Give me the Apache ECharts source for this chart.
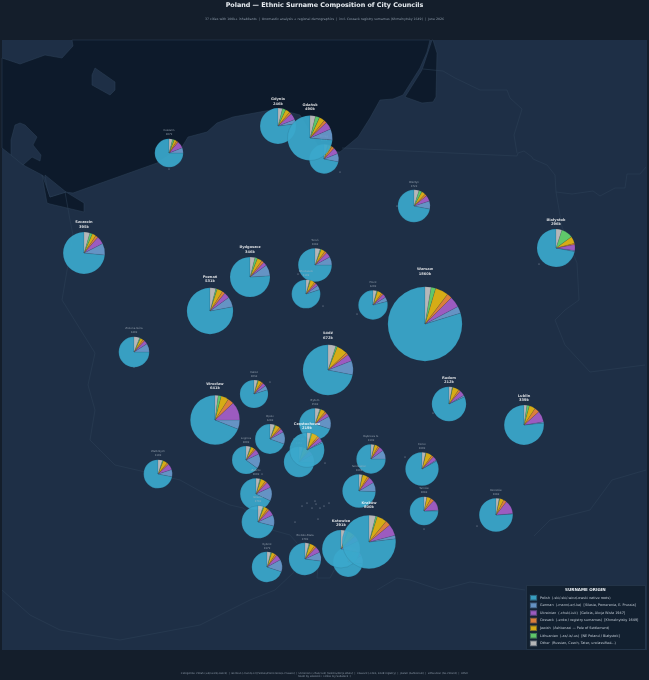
<!DOCTYPE html>
<html><head><meta charset="utf-8">
<style>html,body{margin:0;padding:0;background:#141e2b}#c{width:649px;height:680px}</style>
<script src="https://cdn.jsdelivr.net/npm/echarts@6/dist/echarts.min.js"></script>
</head><body><div id="c"></div>
<script>
const cityNames=["Tychy","Legnica","Kalisz","Koszalin","Tarnów","Wałbrzych","Włocławek","Płock","Elbląg","Dąbrowa G.","Rybnik","Opole","Zabrze","Bytom","Bielsko-Biała","Gliwice","Olsztyn","Rzeszów","Kielce","Sosnowiec","Toruń","Radom","Częstochowa","Zielona Góra","Ruda Śl.","Gdynia","Katowice","Białystok","Lublin","Bydgoszcz","Szczecin","Gdańsk","Poznań","Wrocław","Łódź","Kraków","Warsaw"];
const population=[127,100,103,107,108,110,110,120,120,119,137,128,160,158,170,178,172,198,190,190,198,212,219,140,136,246,291,296,339,346,395,490,531,641,672,800,1860];
const mapX=[348,246,254,169,424,158,306,373,324,371,267,270,256,315,305,258,414,496,422,359,315,449,307,134,299,278,341,556,524,250,84,310,210,215,328,369,425];
const mapY=[562,460,394,153,511,474,294,305,159,459,567,439,494,424,559,522,206,515,469,491,265,404,450,352,462,126,549,248,425,277,253,138,311,420,370,542,324];
const sharePolish=[73,65,80,75,75,72,80,79,72,75,70,69,68,70,73,71,72,76,83,74.5,75,82,82,75,75,77,72,72,76.7,76,73.5,73.6,78,69,71.7,77,79.7];
const shareGerman=[9,17,5,6,1,8,5,5,9,10,13,13,14,13,9,11,8,.5,1,9,8,1.5,1.5,9,8,4,10,1,1,9,9,8,7,6,9,2,3];
const shareUkrainian=[6,6,4,8,12,7,3,4,7,5,6,4,6,4,6,6,6,13,4,6,5,5,4,4,5,6,5,5,9,3,6,5.5,4,12,4.5,7,4.7];
const shareCossack=[2,2,2,2,4,2,2,2,3,2,2,2,2,2,2,2,2,3,2,2,2,2,2,2,2,2,2,1,4,2,2,2,2,4,1.5,3,2.2];
const shareJewish=[4,4,4,3,5,5,5,5,4,4,4,5,5,5,5,4,4,4,6,5,4,6,6,3,5,4,5,6,5,4,3,4,4,5,7,6,5.7];
const shareLithuanian=[1,1,1,2,0,1,1,1,1,.5,1,1,1,1,1,1,3,.5,.5,.5,1,.5,1,1,1,3,1,10,2,2,2,3,1,2,1,1,2];
const shareOther=[5,5,4,4,3,5,4,4,4,3.5,4,5,4,5,4,5,5,3,3.5,3,5,3,3.5,6,4,4,5,5,2.3,4,4.5,3.9,4,2,5,4,2.6];
const specks=[[302,506],[307,503],[315,501],[316,504],[312,508],[320,508],[324,506],[329,503],[295,522],[318,519],[340,172],[169,169],[298,274],[323,306],[357,314],[270,382],[325,463],[262,474],[433,413],[405,457],[424,529],[477,526],[397,206],[539,264],[134,367]];
const categoryNames=["Polish  (-ski/-ski/-wicz/-owski native roots)","German  (-mann/-er/-ke)  [Silesia, Pomerania, E. Prussia]","Ukrainian  (-chuk/-iuk)  [Galicia, Akcja Wisła 1947]","Cossack  (-enko / registry surnames)  [Khmelnytsky 1649]","Jewish  (Ashkenazi — Pale of Settlement)","Lithuanian  (-as/-is/-us)  [NE Poland / Białystok]","Other  (Russian, Czech, Tatar, unclassified...)"];
const categoryColors=["#3aa8cb","#6a9bce","#a65fc9","#e9853c","#e4b612","#65d36e","#c2c2c2"];
const shares=[sharePolish,shareGerman,shareUkrainian,shareCossack,shareJewish,shareLithuanian,shareOther];
const drawnLast=["Włocławek"], drawnFirst=["Ruda Śl."];

const frame=[[2,40],[647,40],[647,650],[2,650],[2,40]];
const seaOutline=[[72,40],[430,40],[427,52],[420,68],[403,95],[393,99],[380,100],[370,118],[358,137],[340,152],[320,150],[300,115],[277,109],[260,112],[233,117],[217,123],[207,132],[188,137],[182,147],[157,163],[73,193],[65,192],[42,175],[25,166],[2,148],[2,58],[20,64],[45,55],[62,58],[73,46],[72,40]];
const lagoonEast=[[433,40],[437,53],[436,97],[433,102],[422,103],[405,97],[422,70],[432,40],[433,40]];
const islandA=[[95,68],[115,82],[115,90],[110,95],[92,85],[92,75],[95,68]];
const islandB=[[20,123],[25,125],[37,137],[33,145],[41,155],[40,161],[32,157],[23,165],[11,155],[11,140],[15,125],[20,123]];
const islandC=[[45,175],[66,192],[50,197],[47,188],[45,175]];
const lagoonWest=[[42,175],[47,203],[50,204],[84,212],[84,203],[66,192],[50,197],[47,188],[42,175]];
const borderLines=[
 [[342,148],[517,156],[518,153],[524,151],[532,157],[533,159],[547,165],[555,175],[556,192],[572,194],[593,191],[600,196],[615,188],[625,188],[627,174],[640,174],[646,167]],
 [[423,69],[443,71],[455,78],[480,90],[507,90],[510,98],[522,109],[514,135],[517,153]],
 [[556,192],[562,227],[577,263],[579,300],[565,310],[555,320],[565,345],[590,372],[645,365]],
 [[534,536],[550,520],[590,510],[612,480],[646,470]],
 [[65,192],[70,220],[73,235],[62,300],[95,353],[88,385],[95,410],[90,440],[115,465],[180,480],[207,495],[230,505],[243,508],[272,530],[290,535],[297,543]],
 [[318,567],[317,578],[330,578],[337,565]],
 [[275,590],[293,573],[297,567]],
 [[377,590],[397,578],[410,580],[440,590],[470,582],[525,590]],
 [[2,590],[30,615],[60,630],[120,640],[200,625],[250,600],[275,590]]
];

const poly=(name,ring)=>({type:"Feature",properties:{name},geometry:{type:"Polygon",coordinates:[ring]}});
const features=[poly("land",frame),poly("sea",seaOutline),poly("lagoonE",lagoonEast),poly("lagoonW",lagoonWest),poly("islandA",islandA),poly("islandB",islandB),poly("islandC",islandC)];
borderLines.forEach((l,i)=>features.push({type:"Feature",properties:{name:"border"+i},geometry:{type:"LineString",coordinates:l}}));
echarts.registerMap("poland",{type:"FeatureCollection",features});

const LAND="#1e2f46",SEA="#0d1a2b",EDGE="#2f4358";
const radiusOf=p=>7+0.7*Math.sqrt(p);
const regionStyles=[["land",LAND,"transparent"],["sea",SEA,EDGE],["lagoonE",SEA,EDGE],["lagoonW",SEA,EDGE],["islandA",LAND,EDGE],["islandB",LAND,EDGE],["islandC",LAND,EDGE]]
 .map(([name,f,b])=>({name,itemStyle:{areaColor:f,borderColor:b,borderWidth:.5}}));

const series=[];
cityNames.forEach((n,i)=>{
 const r=radiusOf(population[i]),big=population[i]>=200;
 const z=drawnFirst.includes(n)?9:drawnLast.includes(n)?60:10+i;
 series.push({type:"pie",coordinateSystem:"geo",geoIndex:0,center:[mapX[i],mapY[i]],radius:[0,r],z,
  startAngle:90,clockwise:false,silent:true,animation:false,label:{show:false},labelLine:{show:false},
  itemStyle:{borderColor:"rgba(30,45,65,.5)",borderWidth:.25,opacity:.93},
  data:categoryNames.map((c,k)=>({name:c,value:shares[k][i],itemStyle:{color:categoryColors[k]}}))});
 series.push({type:"scatter",coordinateSystem:"geo",geoIndex:0,z,silent:true,animation:false,symbolSize:2*r,
  itemStyle:{color:"transparent"},
  label:{show:true,position:"top",distance:2+0.45*Math.max(0,r-18.5),formatter:n+"\n"+population[i]+"k",align:"center",
   fontFamily:"DejaVu Sans",fontSize:big?3.6:2.7,lineHeight:big?4.6:4,fontWeight:big?"bold":"normal",color:big?"#ffffff":"#a9b4c0"},
  data:[[mapX[i],mapY[i]]]});
});
series.push({type:"scatter",coordinateSystem:"geo",geoIndex:0,z:5,silent:true,animation:false,symbolSize:1,itemStyle:{color:"#c6d0dc"},data:specks});

const chart=echarts.init(document.getElementById("c"),null,{renderer:"canvas",width:649,height:680});
const note={fontFamily:"DejaVu Sans",fontSize:2.55,fontWeight:"normal",color:"#8c9aa9"};
chart.setOption({
 animation:false,backgroundColor:"#141e2b",
 title:[
  {text:"Poland — Ethnic Surname Composition of City Councils",left:"center",top:2,padding:0,textStyle:{fontFamily:"DejaVu Sans",fontSize:6.4,fontWeight:"bold",color:"#e8edf2"}},
  {text:"37 cities with 100k+ inhabitants  |  Onomastic analysis + regional demographics  |  incl. Cossack registry surnames (Khmelnytsky 1649)  |  June 2026",left:"center",top:18,padding:0,textStyle:{fontFamily:"DejaVu Sans",fontSize:3.2,fontWeight:"normal",color:"#8c9aa9"}},
  {text:"Categories: Polish (-ski/-wicz/-owicz)  |  German (-mann/-er) [Silesia/Pomerania/E.Prussia]  |  Ukrainian (-chuk/-iuk) [Galicia/Akcja Wisła]  |  Cossack (-enko, 1649 registry)  |  Jewish (Ashkenazi)  |  Lithuanian (NE Poland)  |  Other",left:"center",top:671.6,padding:0,textStyle:note},
  {text:"Made by LBERROT. Follow my Substack :)",left:"center",top:675,padding:0,textStyle:note},
  {text:"SURNAME ORIGIN",left:565,top:587.8,padding:0,z:101,textStyle:{fontFamily:"DejaVu Sans",fontSize:4.1,fontWeight:"bold",color:"#e8edf2"}}
 ],
 geo:{map:"poland",silent:true,roam:false,left:0,top:40,width:649,height:610,boundingCoords:[[0,40],[649,650]],
  projection:{project:p=>[p[0],p[1]],unproject:p=>[p[0],p[1]]},
  label:{show:false},itemStyle:{areaColor:LAND,borderColor:EDGE,borderWidth:.5},regions:regionStyles,
  emphasis:{disabled:true},select:{disabled:true}},
 graphic:[{type:"rect",z:99,shape:{x:526.5,y:585.5,width:119,height:64},style:{fill:"#122030",stroke:"#2f4257",lineWidth:.5}}],
 legend:{orient:"vertical",left:529,top:594,padding:0,itemWidth:7,itemHeight:5.6,itemGap:0,z:100,selectedMode:false,icon:"rect",
  data:categoryNames,textStyle:{fontFamily:"DejaVu Sans",fontSize:3.4,lineHeight:4,color:"#c3ccd6",padding:[0,0,0,-2]}},
 series
});
</script></body></html>
